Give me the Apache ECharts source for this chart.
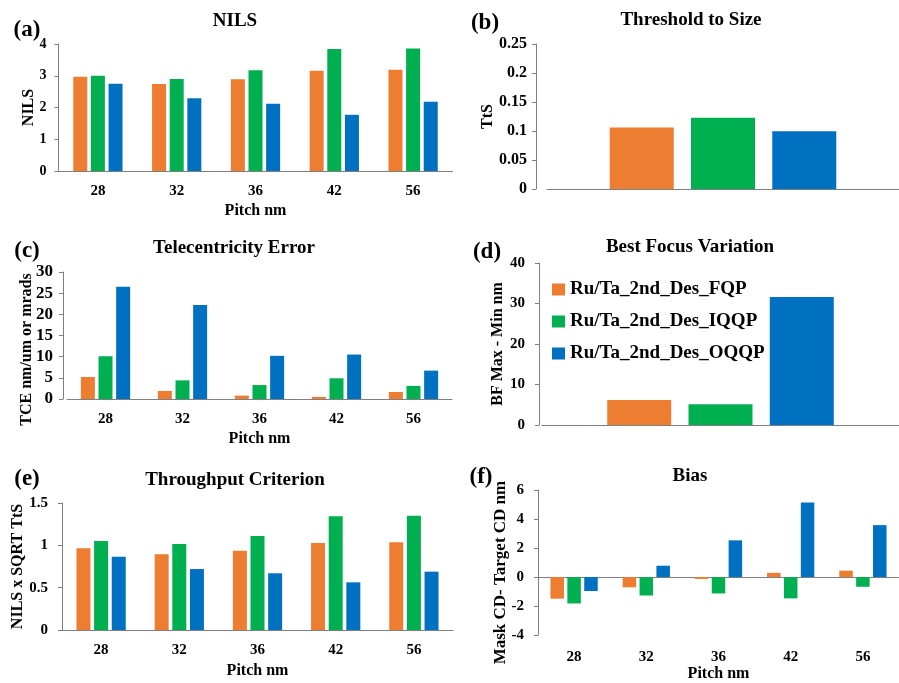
<!DOCTYPE html>
<html>
<head>
<meta charset="utf-8">
<script src="https://cdn.jsdelivr.net/npm/echarts@6/dist/echarts.min.js"></script>
<style>
html,body{margin:0;padding:0;background:#fff;}
#chart{width:899px;height:683px;}
</style>
</head>
<body>
<div id="chart"></div>
<script>
const pitches = ['28', '32', '36', '42', '56'];
const seriesNames = ['Ru/Ta_2nd_Des_FQP', 'Ru/Ta_2nd_Des_IQQP', 'Ru/Ta_2nd_Des_OQQP'];
const colors = ['#ED7D31', '#00B050', '#0070C0'];

// (a) NILS
const nilsFQP  = [2.97, 2.74, 2.89, 3.16, 3.19];
const nilsIQQP = [3.00, 2.90, 3.17, 3.84, 3.86];
const nilsOQQP = [2.75, 2.29, 2.12, 1.77, 2.18];
// (b) Threshold to Size (one value per design)
const ttsValues = [0.106, 0.123, 0.0995];
// (c) Telecentricity error
const tceFQP  = [5.2, 1.9, 0.8, 0.5, 1.65];
const tceIQQP = [10.1, 4.4, 3.3, 4.9, 3.1];
const tceOQQP = [26.5, 22.2, 10.2, 10.5, 6.7];
// (d) Best focus variation (one value per design)
const bfValues = [6.2, 5.1, 31.6];
// (e) Throughput criterion
const tpFQP  = [0.965, 0.894, 0.937, 1.028, 1.035];
const tpIQQP = [1.05, 1.016, 1.11, 1.343, 1.35];
const tpOQQP = [0.866, 0.72, 0.67, 0.563, 0.689];
// (f) Bias
const biasFQP  = [-1.49, -0.71, -0.13, 0.29, 0.44];
const biasIQQP = [-1.82, -1.27, -1.13, -1.47, -0.67];
const biasOQQP = [-0.96, 0.78, 2.53, 5.13, 3.58];

const FONT = '"Liberation Serif", "Times New Roman", serif';
const AX = '#7f7f7f';

function yAx(o) {
  return {
    type: 'value', gridIndex: o.grid, min: o.min, max: o.max, interval: o.interval,
    offset: o.offset || 0,
    name: o.name, nameLocation: 'middle', nameGap: o.nameGap, nameMoveOverlap: false,
    nameTextStyle: {fontFamily: FONT, fontWeight: 'bold', fontSize: o.nameSize || 16, color: '#000', padding: o.namePad || 0},
    axisLine: {show: true, onZero: false, lineStyle: {color: AX, width: 1}},
    axisTick: {show: true, length: 4, lineStyle: {color: AX}},
    splitLine: {show: false},
    axisLabel: {fontFamily: FONT, fontWeight: 'bold', fontSize: o.labelSize || 15, color: '#000', margin: o.margin || 10}
  };
}
function xAx(grid, data, showLabels, name, nameGap, margin) {
  return {
    type: 'category', gridIndex: grid, data: data, position: 'bottom',
    name: name || '', nameLocation: 'middle', nameGap: nameGap || 30,
    nameTextStyle: {fontFamily: FONT, fontWeight: 'bold', fontSize: 16, color: '#000'},
    axisLine: {show: true, onZero: false, lineStyle: {color: AX, width: 1}},
    axisTick: {show: false},
    axisLabel: {show: showLabels, fontFamily: FONT, fontWeight: 'bold', fontSize: 15, color: '#000', margin: margin || 13}
  };
}
function bars(arrs, xi, yi, width, gap) {
  return arrs.map((d, i) => ({
    name: seriesNames[i], type: 'bar', xAxisIndex: xi, yAxisIndex: yi,
    data: d, barWidth: width, barGap: gap,
    itemStyle: {color: colors[i]}, emphasis: {disabled: true}, animation: false
  }));
}

const grids = [
  {left: 58.5, top: 44, width: 394, height: 127},
  {left: 547, top: 44, width: 371, height: 145},
  {left: 67, top: 272, width: 385, height: 127},
  {left: 542, top: 263, width: 368, height: 162},
  {left: 62, top: 503, width: 391, height: 127},
  {left: 538, top: 490, width: 370, height: 150}
];

const biasLabelAxis = xAx(5, pitches, true, 'Pitch nm', 30, 15);
biasLabelAxis.axisLine = {show: false, onZero: false};
const biasZeroAxis = xAx(5, pitches, false);
biasZeroAxis.axisLine = {show: true, onZero: true, lineStyle: {color: AX, width: 1}};

const xAxes = [
  xAx(0, pitches, true, 'Pitch nm', 32, 13),
  xAx(1, [''], false),
  xAx(2, pitches, true, 'Pitch nm', 32, 13),
  xAx(3, [''], false),
  xAx(4, pitches, true, 'Pitch nm', 33, 13),
  biasLabelAxis,
  biasZeroAxis
];

const yAxes = [
  yAx({grid: 0, min: 0, max: 4, interval: 1, name: 'NILS', nameGap: 22, labelSize: 14, margin: 12}),
  yAx({grid: 1, min: 0, max: 0.25, interval: 0.05, name: 'TtS', nameGap: 40, offset: 11, labelSize: 16, margin: 9}),
  yAx({grid: 2, min: 0, max: 30, interval: 5, name: 'TCE nm/um or mrads', nameGap: 28, offset: 4, labelSize: 17, margin: 10, namePad: [0, 28, 0, 0]}),
  yAx({grid: 3, min: 0, max: 40, interval: 10, name: 'BF Max - Min nm', nameGap: 33, offset: 3, labelSize: 15, margin: 14}),
  yAx({grid: 4, min: 0, max: 1.5, interval: 0.5, name: 'NILS x SQRT TtS', nameGap: 36, labelSize: 15, margin: 14}),
  yAx({grid: 5, min: -4, max: 6, interval: 2, name: 'Mask CD- Target CD nm', nameGap: 29, labelSize: 15, margin: 14, namePad: [0, 20, 0, 0], nameSize: 17})
];

const series = [].concat(
  bars([nilsFQP, nilsIQQP, nilsOQQP], 0, 0, 14, '26%'),
  bars([[ttsValues[0]], [ttsValues[1]], [ttsValues[2]]], 1, 1, 64, '27%'),
  bars([tceFQP, tceIQQP, tceOQQP], 2, 2, 14, '26%'),
  bars([[bfValues[0]], [bfValues[1]], [bfValues[2]]], 3, 3, 64, '27%'),
  bars([tpFQP, tpIQQP, tpOQQP], 4, 4, 14, '26%'),
  bars([biasFQP, biasIQQP, biasOQQP], 5, 5, 13.5, '25%')
);

function txt(s, x, y, size) {
  return {type: 'text', x: x, y: y, silent: true,
    style: {text: s, fontFamily: FONT, fontWeight: 'bold', fontSize: size, fill: '#000', align: 'center', verticalAlign: 'middle'}};
}
const graphics = [
  txt('(a)', 27, 30, 23), txt('NILS', 235, 21, 19),
  txt('(b)', 485, 23, 23), txt('Threshold to Size', 691, 20, 19),
  txt('(c)', 27, 251, 23), txt('Telecentricity Error', 234, 248, 19),
  txt('(d)', 487, 252, 23), txt('Best Focus Variation', 690, 247, 19),
  txt('(e)', 27, 479, 23), txt('Throughput Criterion', 235, 480, 19),
  txt('(f)', 481, 477, 23), txt('Bias', 690, 476, 19)
];

const chart = echarts.init(document.getElementById('chart'), null, {renderer: 'canvas'});
chart.setOption({
  animation: false,
  backgroundColor: '#fff',
  grid: grids,
  xAxis: xAxes,
  yAxis: yAxes,
  series: series,
  graphic: graphics,
  legend: {
    data: seriesNames, orient: 'vertical', left: 547, top: 275,
    itemWidth: 13, itemHeight: 12, itemGap: 13, icon: 'rect',
    textStyle: {fontFamily: FONT, fontWeight: 'bold', fontSize: 19, color: '#000'},
    selectedMode: false
  }
});
</script>
</body>
</html>
